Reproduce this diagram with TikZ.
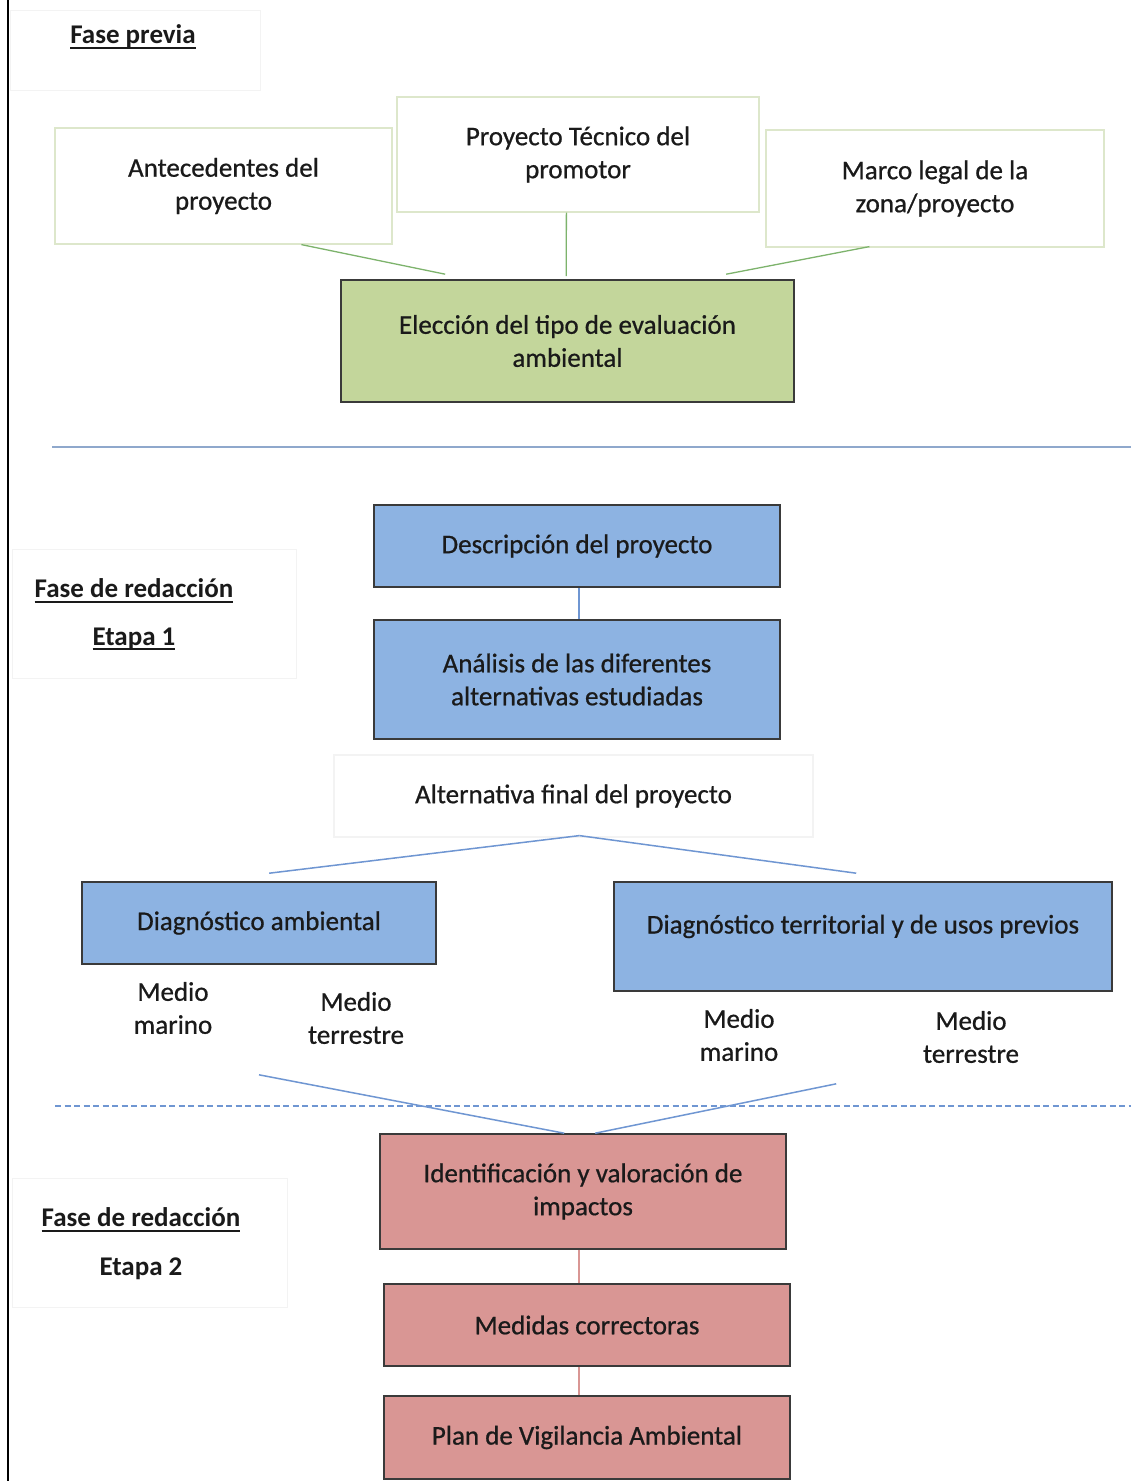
\documentclass[tikz,border=0pt]{standalone}
\usepackage{fontspec}
\setmainfont{Carlito}
\newfontfamily\semib{Carlito}[FakeBold=0.7]
\definecolor{gfill}{HTML}{C3D69B}
\definecolor{bfill}{HTML}{8DB3E2}
\definecolor{pfill}{HTML}{D99694}
\definecolor{boxline}{HTML}{3A3A3A}
\definecolor{gline}{HTML}{7DB36C}
\definecolor{bline}{HTML}{6F96D2}
\definecolor{pline}{HTML}{D99694}
\definecolor{topline}{HTML}{DDE7CB}
\definecolor{faint}{HTML}{F3F3F3}
\definecolor{sepline}{HTML}{8FA8CC}
\definecolor{txt}{HTML}{1A1A1A}
\newcommand\myul[1]{\setbox0\hbox{#1}\rlap{\rule[-5pt]{\wd0}{1.8pt}}\box0}
\tikzset{
  basefont/.style={font=\semib\fontsize{27}{33}\selectfont, text=txt},
  colbox/.style={basefont, draw=boxline, line width=1.6pt, inner sep=0pt, align=center},
  topbox/.style={basefont, draw=topline, line width=1.2pt, fill=white, inner sep=0pt, align=center},
  faintbox/.style={draw=faint, line width=1pt, fill=white, inner sep=0pt},
  plaintext/.style={basefont, inner sep=0pt, align=center},
  labeltext/.style={font=\fontsize{27}{33}\selectfont\bfseries, text=txt, inner sep=0pt},
  gconn/.style={draw=gline, line width=1.3pt},
  bconn/.style={draw=bline, line width=1.5pt},
  pconn/.style={draw=pline, line width=1.5pt},
}
\begin{document}
\begin{tikzpicture}[x=1pt,y=-1pt]
\useasboundingbox[fill=white] (0,0) rectangle (1131,1481);
% left border line
\draw[black, line width=1.2pt] (8,0) -- (8,1481);

% label boxes
\node[faintbox, minimum width=250, minimum height=80] (lb1) at (135,50) {};
\node[labeltext] (l1) at (133,37) {\myul{Fase previa}};
\node[faintbox, minimum width=284, minimum height=129] (lb2) at (154,613.5) {};
\node[labeltext] (l2a) at (134,591) {\myul{Fase de redacción}};
\node[labeltext] (l2b) at (134,639) {\myul{Etapa 1}};
\node[faintbox, minimum width=275, minimum height=129] (lb3) at (149.5,1242.5) {};
\node[labeltext] (l3a) at (141,1220) {\myul{Fase de redacción}};
\node[labeltext] (l3b) at (141,1269) {Etapa 2};

% Fase previa
\node[topbox, minimum width=337, minimum height=116] (ant) at (223.5,186) {Antecedentes del\\proyecto};
\node[topbox, minimum width=362, minimum height=115] (pro) at (578,154.5) {Proyecto Técnico del\\promotor};
\node[topbox, minimum width=338, minimum height=117] (mar) at (935,188.5) {Marco legal de la\\zona/proyecto};
\node[colbox, fill=gfill, minimum width=453, minimum height=122] (ele) at (567.5,341) {Elección del tipo de evaluación\\ambiental};
\draw[gconn] ([xshift=247pt]ant.south west) -- ([xshift=105pt,yshift=5pt]ele.north west);
\draw[gconn] ([xshift=170pt]pro.south west) -- ([xshift=226pt,yshift=3pt]ele.north west);
\draw[gconn] ([xshift=104pt,yshift=1pt]mar.south west) -- ([xshift=386pt,yshift=5pt]ele.north west);

% separator
\draw[sepline, line width=2pt] (52,447) -- (1131,447);

% Etapa 1
\node[colbox, fill=bfill, minimum width=406, minimum height=82] (des) at (577,546) {\raisebox{-3pt}{Descripción del proyecto}};
\node[colbox, fill=bfill, minimum width=406, minimum height=119] (ana) at (577,679.5) {Análisis de las diferentes\\alternativas estudiadas};
\draw[bconn] ([xshift=206pt]des.south west) -- ([xshift=206pt]ana.north west);
\node[topbox, draw=faint, minimum width=479, minimum height=82] (alt) at (573.5,796) {Alternativa final del proyecto};
\node[colbox, fill=bfill, minimum width=354, minimum height=82] (dam) at (259,923) {\raisebox{-3pt}{Diagnóstico ambiental}};
\node[colbox, fill=bfill, minimum width=498, minimum height=109, text height=19pt, text depth=31pt] (dte) at (863,936.5) {\raisebox{-3pt}{Diagnóstico territorial y de usos previos}};
\draw[bconn] ([xshift=246pt,yshift=2pt]alt.south west) -- ([xshift=188pt,yshift=8pt]dam.north west);
\draw[bconn] ([xshift=246pt,yshift=2pt]alt.south west) -- ([xshift=243pt,yshift=8pt]dte.north west);

\node[plaintext] (m1) at (173,1008) {Medio\\marino};
\node[plaintext] (t1) at (356,1018) {Medio\\terrestre};
\node[plaintext] (m2) at (739,1035) {Medio\\marino};
\node[plaintext] (t2) at (971,1037) {Medio\\terrestre};

% dashed separator
\draw[bline, line width=1.8pt, dash pattern=on 6pt off 3.5pt] (55,1106) -- (1131,1106);

% Etapa 2
\node[colbox, fill=pfill, minimum width=406, minimum height=115] (ide) at (583,1191.5) {Identificación y valoración de\\impactos};
\node[colbox, fill=pfill, minimum width=406, minimum height=82] (med) at (587,1325) {\raisebox{-2pt}{Medidas correctoras}};
\node[colbox, fill=pfill, minimum width=406, minimum height=83] (pla) at (587,1437.5) {\raisebox{-3pt}{Plan de Vigilancia Ambiental}};
\draw[bconn] ([yshift=-110pt]dam.south) -- ([xshift=185pt]ide.north west);
\draw[bconn] ([xshift=223pt,yshift=-92pt]dte.south west) -- ([xshift=216pt]ide.north west);
\draw[pconn] ([xshift=200pt]ide.south west) -- ([xshift=196pt]med.north west);
\draw[pconn] ([xshift=196pt]med.south west) -- ([xshift=196pt]pla.north west);
\end{tikzpicture}
\end{document}
